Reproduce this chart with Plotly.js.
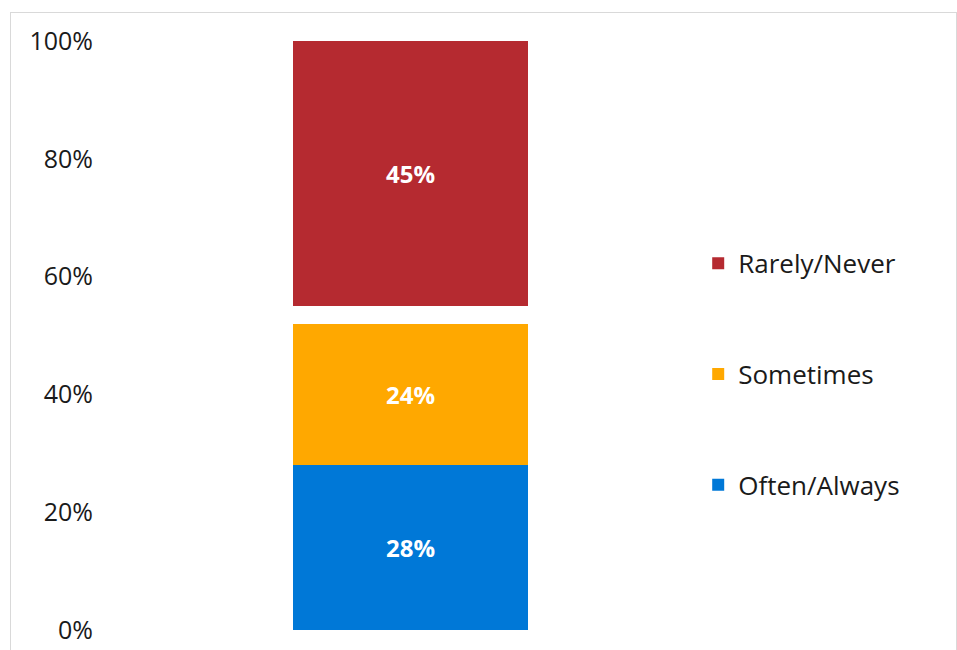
<!DOCTYPE html>
<html>
<head>
<meta charset="utf-8">
<script src="https://cdn.plot.ly/plotly-3.0.1.min.js"></script>
<style>
html,body{margin:0;padding:0;width:957px;height:650px;overflow:hidden;background:#fff;}
#chart{position:absolute;left:0;top:0;width:957px;height:650px;}
#frame{position:absolute;left:10px;top:12px;width:945px;height:660px;border:1px solid #d9d9d9;pointer-events:none;}
</style>
</head>
<body>
<div id="chart"></div>
<div id="frame"></div>
<script>
const categories = ["All"];
const oftenAlways = [0.28];
const sometimes = [0.24];
const gapSeries = [0.03];
const rarelyNever = [0.45];
const seriesNames = ["Often/Always", "Sometimes", "", "Rarely/Never"];
const colors = ["#0078d7", "#ffa800", "rgba(0,0,0,0)", "#b52a30"];
const FONT = "Open Sans, Lato, sans-serif";

function barTrace(name, vals, color, show, group, rank) {
  return {
    type: "bar",
    x: categories,
    y: vals,
    name: name,
    width: 0.3917,
    marker: {color: color, line: {width: 0}},
    text: show ? vals.map(v => Math.round(v * 100) + "%") : [""],
    textposition: show ? "inside" : "none",
    insidetextanchor: "middle",
    textfont: {family: FONT, size: 24, color: "#ffffff", weight: "bold"},
    showlegend: show,
    legendgroup: group,
    legendrank: rank,
    hoverinfo: show ? "y+name" : "skip"
  };
}

const data = [
  barTrace(seriesNames[0], oftenAlways, colors[0], true, "g1", 3000),
  barTrace(seriesNames[1], sometimes, colors[1], true, "g2", 2000),
  barTrace(seriesNames[2], gapSeries, colors[2], false, "g3", 1500),
  barTrace(seriesNames[3], rarelyNever, colors[3], true, "g4", 1000)
];

const layout = {
  width: 957,
  height: 650,
  barmode: "stack",
  paper_bgcolor: "#ffffff",
  plot_bgcolor: "#ffffff",
  margin: {l: 100, r: 257, t: 41, b: 20, pad: 0},
  font: {family: FONT, color: "#1a1a1a", size: 26},
  xaxis: {
    range: [-0.5175, 0.4825],
    showticklabels: false,
    showgrid: false,
    zeroline: false,
    showline: false,
    ticks: "",
    fixedrange: true
  },
  yaxis: {
    range: [0, 1],
    tickvals: [0, 0.2, 0.4, 0.6, 0.8, 1.0],
    ticktext: ["0%", "20%", "40%", "60%", "80%", "100%"],
    showgrid: false,
    zeroline: false,
    showline: false,
    ticks: "",
    ticklabelstandoff: 6,
    tickfont: {family: FONT, size: 25, color: "#1a1a1a"},
    fixedrange: true
  },
  legend: {
    x: 0.997,
    xanchor: "left",
    y: 0.434,
    yanchor: "middle",
    traceorder: "grouped",
    tracegroupgap: 74,
    font: {family: FONT, size: 26, color: "#1a1a1a"},
    itemwidth: 30,
    bgcolor: "rgba(0,0,0,0)"
  },
  showlegend: true
};

Plotly.newPlot("chart", data, layout, {displayModeBar: false, staticPlot: true});
</script>
</body>
</html>
